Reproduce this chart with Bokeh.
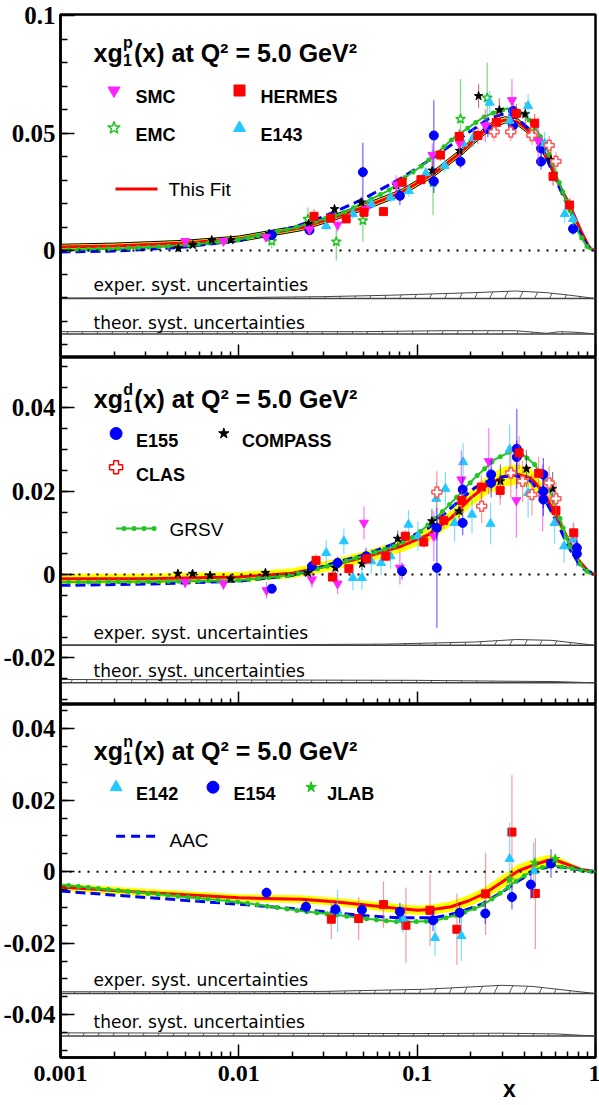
import numpy as np
from bokeh.plotting import figure
from bokeh.models import Range1d, FixedTicker, Label, Span, LogAxis
from bokeh.layouts import column
from bokeh.embed import file_html
from bokeh.resources import INLINE

# ---------------- DATA ----------------
x_major = [0.001, 0.01, 0.1, 1.0]
x_major_labels = ["0.001", "0.01", "0.1", "1"]

# ----- proton panel -----
p_fit_x = [0.001, 0.002, 0.005, 0.01, 0.0224, 0.0344, 0.053, 0.0815, 0.125, 0.177, 0.229, 0.272, 0.31, 0.368, 0.456, 0.542, 0.644, 0.733, 0.834, 0.928, 1.0]
p_fit_y = [0.0015, 0.0020, 0.0032, 0.0050, 0.0097, 0.0142, 0.0191, 0.0247, 0.0330, 0.0420, 0.0497, 0.0542, 0.0556, 0.0546, 0.0490, 0.0386, 0.0260, 0.0177, 0.0079, 0.0010, 0.0]
p_fit_err = [0.0012, 0.0012, 0.0012, 0.0012, 0.0012, 0.0012, 0.0013, 0.0013, 0.0013, 0.0014, 0.0014, 0.0014, 0.0014, 0.0014, 0.0013, 0.0012, 0.0011, 0.0009, 0.0006, 0.0003, 0.0]
p_aac_x = [0.001, 0.002, 0.005, 0.01, 0.02, 0.03, 0.05, 0.08, 0.12, 0.18, 0.25, 0.3, 0.35, 0.42, 0.5, 0.6, 0.7, 0.8, 0.9, 1.0]
p_aac_y = [-0.0006, -0.0002, 0.0015, 0.0043, 0.0098, 0.0145, 0.0220, 0.0305, 0.0390, 0.0485, 0.0560, 0.0580, 0.0575, 0.0520, 0.0440, 0.0300, 0.0190, 0.0090, 0.0020, 0.0]
p_grsv_x = [0.001, 0.002, 0.005, 0.01, 0.02, 0.030, 0.0375, 0.054, 0.0686, 0.085, 0.105, 0.131, 0.159, 0.201, 0.234, 0.284, 0.323, 0.368, 0.419, 0.477, 0.542, 0.617, 0.702, 0.798, 0.908, 1.0]
p_grsv_y = [0.0003, 0.0008, 0.0022, 0.0047, 0.0095, 0.0135, 0.0156, 0.0216, 0.0254, 0.0310, 0.0358, 0.0420, 0.0477, 0.0532, 0.0567, 0.0595, 0.0605, 0.0595, 0.0560, 0.0504, 0.0420, 0.0302, 0.0191, 0.0079, 0.0010, 0.0]

p_smc_x = [0.005, 0.0082, 0.0142, 0.0249, 0.0358, 0.0517, 0.0763, 0.1216, 0.173, 0.241, 0.34, 0.477]
p_smc_y = [0.0040, 0.0040, 0.0058, 0.0090, 0.0110, 0.0175, 0.0281, 0.0407, 0.0456, 0.0532, 0.0640, 0.0467]
p_smc_e = [0.0010, 0.0012, 0.0015, 0.0020, 0.0030, 0.0035, 0.0040, 0.0050, 0.0060, 0.0070, 0.0090, 0.0100]
p_hermes_x = [0.0264, 0.0327, 0.040, 0.0503, 0.0647, 0.0824, 0.105, 0.135, 0.172, 0.219, 0.278, 0.36, 0.456, 0.578, 0.716]
p_hermes_y = [0.0146, 0.0138, 0.0135, 0.0163, 0.0166, 0.0291, 0.0302, 0.0407, 0.0486, 0.0490, 0.0546, 0.0584, 0.0542, 0.0316, 0.0194]
p_hermes_e = [0.0030, 0.0020, 0.0015, 0.0015, 0.0015, 0.0020, 0.0020, 0.0025, 0.0030, 0.0035, 0.0040, 0.0040, 0.0040, 0.0040, 0.0030]
p_emc_x = [0.0153, 0.0244, 0.0352, 0.0496, 0.1227, 0.175, 0.247]
p_emc_y = [0.0040, 0.0134, 0.0038, 0.0128, 0.0290, 0.0560, 0.0650]
p_emc_e = [0.0030, 0.0050, 0.0080, 0.0090, 0.0140, 0.0170, 0.0150]
p_e143_x = [0.0309, 0.0436, 0.0553, 0.0709, 0.0899, 0.112, 0.1425, 0.181, 0.206, 0.255, 0.33, 0.419, 0.519, 0.672, 0.748]
p_e143_y = [0.0105, 0.0156, 0.0198, 0.0226, 0.0254, 0.0330, 0.0361, 0.0456, 0.0480, 0.0630, 0.0553, 0.0616, 0.0456, 0.0156, 0.0135]
p_e143_e = [0.0020, 0.0020, 0.0020, 0.0020, 0.0025, 0.0025, 0.0030, 0.0035, 0.0040, 0.0050, 0.0050, 0.0050, 0.0050, 0.0040, 0.0030]
p_e155_x = [0.0153, 0.0249, 0.0496, 0.080, 0.124, 0.124, 0.175, 0.249, 0.345, 0.345, 0.495, 0.495, 0.748]
p_e155_y = [0.0066, 0.0087, 0.0334, 0.0233, 0.0490, 0.0295, 0.0379, 0.0518, 0.0532, 0.0595, 0.0435, 0.0379, 0.0093]
p_e155_e = [0.0015, 0.0020, 0.0125, 0.0040, 0.0150, 0.0050, 0.0030, 0.0035, 0.0040, 0.0040, 0.0040, 0.0035, 0.0025]
p_star_x = [0.00458, 0.00552, 0.00705, 0.0090, 0.0148, 0.0246, 0.0344, 0.0486, 0.0763, 0.1216, 0.173, 0.221, 0.289, 0.404, 0.563]
p_star_y = [0.0010, 0.0024, 0.0045, 0.0045, 0.0072, 0.0114, 0.0177, 0.0205, 0.0277, 0.0341, 0.0425, 0.0658, 0.0598, 0.0581, 0.0386]
p_star_e = [0.0008, 0.0008, 0.0010, 0.0010, 0.0012, 0.0015, 0.0020, 0.0025, 0.0030, 0.0040, 0.0050, 0.0050, 0.0050, 0.0050, 0.0040]
p_clas_x = [0.27, 0.335, 0.44, 0.55, 0.6]
p_clas_y = [0.0505, 0.0505, 0.0490, 0.0448, 0.0380]
p_clas_e = [0.0040, 0.0040, 0.0040, 0.0040, 0.0040]

p_exp_x = [0.001, 0.003, 0.01, 0.03, 0.07, 0.139, 0.207, 0.357, 0.53, 0.72, 1.0]
p_exp_h = [0.0002, 0.0003, 0.0004, 0.0008, 0.0014, 0.0021, 0.0025, 0.0032, 0.0025, 0.0014, 0.0]
p_theo_x = [0.001, 0.01, 0.05, 0.139, 0.357, 0.53, 0.63, 0.8, 1.0]
p_theo_h = [0.0010, 0.0010, 0.0010, 0.0014, 0.0014, 0.0003, 0.0010, 0.0007, 0.0]
p_exp_base = -0.0204
p_theo_base = -0.0355

# ----- deuteron panel -----
d_fit_x = [0.001, 0.003, 0.01, 0.02, 0.0344, 0.053, 0.0815, 0.116, 0.155, 0.2, 0.25, 0.31, 0.368, 0.434, 0.515, 0.617, 0.702, 0.798, 0.928, 1.0]
d_fit_y = [-0.0010, -0.0010, -0.0006, 0.0003, 0.0024, 0.0044, 0.0068, 0.0096, 0.0136, 0.0184, 0.0216, 0.0236, 0.0240, 0.0232, 0.0196, 0.0132, 0.0084, 0.0036, 0.0004, 0.0]
d_fit_err = [0.0012, 0.0012, 0.0012, 0.0012, 0.0013, 0.0014, 0.0015, 0.0016, 0.0018, 0.0020, 0.0022, 0.0024, 0.0024, 0.0022, 0.0018, 0.0014, 0.0010, 0.0006, 0.0002, 0.0]
d_aac_x = [0.001, 0.003, 0.01, 0.02, 0.0344, 0.053, 0.0815, 0.116, 0.155, 0.21, 0.272, 0.355, 0.434, 0.515, 0.617, 0.702, 0.834, 1.0]
d_aac_y = [-0.0026, -0.0023, -0.0016, -0.0002, 0.0028, 0.0050, 0.0080, 0.0112, 0.0160, 0.0208, 0.0232, 0.0238, 0.0224, 0.0184, 0.0120, 0.0068, 0.0016, 0.0]
d_grsv_x = [0.001, 0.003, 0.01, 0.02, 0.0344, 0.053, 0.0748, 0.0967, 0.125, 0.162, 0.21, 0.272, 0.336, 0.381, 0.456, 0.542, 0.617, 0.702, 0.834, 0.928, 1.0]
d_grsv_y = [-0.0018, -0.0017, -0.0014, -0.0001, 0.0024, 0.0048, 0.0068, 0.0092, 0.0132, 0.0180, 0.0232, 0.0276, 0.0296, 0.0292, 0.0264, 0.0212, 0.0148, 0.0076, 0.0020, 0.0002, 0.0]

d_smc_x = [0.005, 0.0082, 0.0143, 0.0257, 0.0358, 0.0503, 0.080, 0.124, 0.177, 0.252, 0.36, 0.505]
d_smc_y = [-0.0018, -0.0022, -0.0038, -0.0012, -0.0022, 0.0124, 0.0016, 0.0092, 0.0228, 0.0272, 0.0178, 0.0184]
d_smc_e = [0.0015, 0.0015, 0.0020, 0.0020, 0.0025, 0.0040, 0.0040, 0.0060, 0.0070, 0.0080, 0.0090, 0.0080]
d_e143_x = [0.0309, 0.0388, 0.0436, 0.049, 0.0553, 0.0628, 0.0709, 0.0894, 0.101, 0.128, 0.144, 0.162, 0.181, 0.203, 0.258, 0.33, 0.419, 0.59, 0.667, 0.748]
d_e143_y = [0.0052, 0.0080, -0.0008, -0.0008, 0.0032, 0.0028, 0.0044, 0.0120, 0.0092, 0.0182, 0.0206, 0.0124, 0.0270, 0.0144, 0.0122, 0.0300, 0.0196, 0.0124, 0.0068, 0.0084]
d_e143_e = [0.0030, 0.0030, 0.0030, 0.0030, 0.0030, 0.0030, 0.0030, 0.0035, 0.0035, 0.0040, 0.0040, 0.0045, 0.0045, 0.0045, 0.0050, 0.0060, 0.0060, 0.0050, 0.0040, 0.0040]
d_e155_x = [0.0153, 0.0257, 0.0358, 0.0517, 0.0823, 0.129, 0.129, 0.18, 0.18, 0.26, 0.26, 0.362, 0.362, 0.51, 0.51, 0.51, 0.786, 0.786]
d_e155_y = [-0.0034, 0.0020, 0.0028, 0.0044, 0.0008, 0.0016, 0.0112, 0.0204, 0.0124, 0.0240, 0.0220, 0.0302, 0.0282, 0.0240, 0.0200, 0.0180, 0.0064, 0.0050]
d_e155_e = [0.0010, 0.0015, 0.0015, 0.0020, 0.0020, 0.0144, 0.0030, 0.0030, 0.0030, 0.0035, 0.0035, 0.0096, 0.0040, 0.0040, 0.0040, 0.0040, 0.0030, 0.0030]
d_compass_x = [0.00455, 0.0055, 0.0069, 0.0090, 0.0141, 0.0244, 0.0348, 0.0491, 0.0777, 0.121, 0.172, 0.293, 0.41, 0.575]
d_compass_y = [0.0002, 0.0002, -0.0002, -0.0010, 0.0004, 0.0004, 0.0016, 0.0026, 0.0086, 0.0128, 0.0152, 0.0224, 0.0254, 0.0206]
d_compass_e = [0.0008, 0.0008, 0.0008, 0.0008, 0.0010, 0.0010, 0.0012, 0.0015, 0.0020, 0.0030, 0.0035, 0.0040, 0.0045, 0.0040]
d_hermes_x = [0.0271, 0.0335, 0.0414, 0.0522, 0.0667, 0.0858, 0.109, 0.141, 0.178, 0.229, 0.292, 0.373, 0.48, 0.6, 0.755]
d_hermes_y = [0.0034, -0.0006, 0.0014, 0.0038, 0.0044, 0.0092, 0.0078, 0.0130, 0.0178, 0.0210, 0.0202, 0.0292, 0.0243, 0.0154, 0.0100]
d_hermes_e = [0.0015, 0.0012, 0.0012, 0.0012, 0.0012, 0.0015, 0.0015, 0.0020, 0.0025, 0.0030, 0.0035, 0.0040, 0.0040, 0.0035, 0.0025]
d_clas_x = [0.129, 0.23, 0.335, 0.39, 0.44, 0.55, 0.6]
d_clas_y = [0.0198, 0.0164, 0.0244, 0.0224, 0.0192, 0.0220, 0.0182]
d_clas_e = [0.0050, 0.0040, 0.0060, 0.0050, 0.0050, 0.0040, 0.0040]

d_exp_x = [0.001, 0.01, 0.067, 0.21, 0.36, 0.57, 1.0]
d_exp_h = [0.0001, 0.0001, 0.0003, 0.0008, 0.0014, 0.0012, 0.0]
d_theo_x = [0.001, 0.01, 0.1, 0.3, 0.6, 1.0]
d_theo_h = [0.0008, 0.0007, 0.0006, 0.0004, 0.0003, 0.0]
d_exp_base = -0.0170
d_theo_base = -0.0260

# ----- neutron panel -----
n_fit_x = [0.001, 0.003, 0.01, 0.0224, 0.0344, 0.053, 0.0815, 0.101, 0.125, 0.155, 0.193, 0.239, 0.295, 0.368, 0.456, 0.542, 0.617, 0.702, 0.834, 1.0]
n_fit_y = [-0.0043, -0.0058, -0.0073, -0.0077, -0.0084, -0.0094, -0.0104, -0.0108, -0.0105, -0.0098, -0.0082, -0.0061, -0.0031, 0.0002, 0.0020, 0.0032, 0.0030, 0.0020, 0.0006, 0.0]
n_fit_err = [0.0010, 0.0010, 0.0010, 0.0011, 0.0011, 0.0012, 0.0013, 0.0013, 0.0014, 0.0015, 0.0016, 0.0017, 0.0018, 0.0018, 0.0017, 0.0015, 0.0012, 0.0008, 0.0004, 0.0]
n_aac_x = [0.001, 0.003, 0.01, 0.0224, 0.0344, 0.053, 0.0815, 0.125, 0.169, 0.229, 0.295, 0.368, 0.456, 0.562, 0.702, 0.88, 1.0]
n_aac_y = [-0.0054, -0.0072, -0.0091, -0.0105, -0.0115, -0.0124, -0.0129, -0.0129, -0.0115, -0.0091, -0.0059, -0.0026, 0.0002, 0.0016, 0.0011, 0.0002, 0.0]
n_grsv_x = [0.001, 0.003, 0.01, 0.0224, 0.0344, 0.053, 0.0815, 0.125, 0.169, 0.229, 0.295, 0.368, 0.456, 0.562, 0.702, 0.88, 1.0]
n_grsv_y = [-0.0036, -0.0060, -0.0085, -0.0110, -0.0120, -0.0132, -0.0141, -0.0138, -0.0120, -0.0096, -0.0059, -0.0022, 0.0006, 0.0018, 0.0011, 0.0002, 0.0]

n_e154_x = [0.0143, 0.0238, 0.0348, 0.049, 0.080, 0.1227, 0.173, 0.241, 0.34, 0.434, 0.563]
n_e154_y = [-0.0059, -0.0098, -0.0105, -0.0107, -0.0112, -0.0136, -0.0115, -0.0117, -0.0071, -0.0036, 0.0023]
n_e154_e = [0.0015, 0.0020, 0.0020, 0.0020, 0.0025, 0.0030, 0.0030, 0.0030, 0.0035, 0.0040, 0.0040]
n_e142_x = [0.0358, 0.083, 0.126, 0.177, 0.33, 0.45]
n_e142_y = [-0.0110, -0.0131, -0.0185, -0.0180, 0.0036, 0.0002]
n_e142_e = [0.0060, 0.0040, 0.0050, 0.0070, 0.0100, 0.0080]
n_hermes_x = [0.033, 0.047, 0.0647, 0.0865, 0.118, 0.167, 0.242, 0.34, 0.46]
n_hermes_y = [-0.0133, -0.0131, -0.0092, -0.0150, -0.0108, -0.0161, -0.0062, 0.0111, -0.0061]
n_hermes_e = [0.0055, 0.0060, 0.0065, 0.0105, 0.0100, 0.0100, 0.0115, 0.0160, 0.0155]
n_jlab_x = [0.33, 0.456, 0.595]
n_jlab_y = [-0.0022, 0.0025, 0.0036]
n_jlab_e = [0.0015, 0.0015, 0.0015]

n_exp_x = [0.001, 0.01, 0.03, 0.11, 0.3, 0.44, 1.0]
n_exp_h = [0.0005, 0.0005, 0.0006, 0.0012, 0.0023, 0.0020, 0.0]
n_theo_x = [0.001, 0.01, 0.1, 0.3, 0.6, 1.0]
n_theo_h = [0.0009, 0.0008, 0.0007, 0.0008, 0.0006, 0.0]
n_exp_base = -0.0341
n_theo_base = -0.0460

x_axis_title = "x"

# ---------------- STYLE ----------------
RED = "#ff0000"
BLUE = "#0000ff"
GREEN = "#22c422"
CYAN = "#22c8ff"
MAGENTA = "#ff22ff"
YELLOW = "#ffff00"

ORIGIN = 1           # observed page offset of the canvas
BORDER_L = 58
FRAME_LEFT = ORIGIN + BORDER_L
FRAME_W = 535
SANS = "Liberation Sans"
SERIF = "Liberation Serif"

panels = {}


def make_panel(key, lo, hi, top_px, frame_h, y_major, y_labels, y_minor, bottom=False, mb_top=0):
    p = figure(x_axis_type="log", x_range=Range1d(0.001, 1.0), y_range=Range1d(lo, hi),
               frame_width=FRAME_W, frame_height=frame_h,
               min_border_left=BORDER_L, min_border_right=5, min_border_top=mb_top,
               min_border_bottom=0,
               output_backend="svg", toolbar_location=None)
    p.xgrid.visible = False
    p.ygrid.visible = False
    p.outline_line_color = "black"
    p.outline_line_width = 2.5
    p.background_fill_color = "white"
    p.border_fill_color = "white"

    minors_x = [m * 10.0 ** e for e in (-3, -2, -1) for m in range(2, 10)]
    p.xaxis.ticker = FixedTicker(ticks=x_major, minor_ticks=minors_x)
    p.xaxis.major_label_overrides = {v: s for v, s in zip(x_major, x_major_labels)}
    p.yaxis.ticker = FixedTicker(ticks=y_major, minor_ticks=y_minor)
    p.yaxis.major_label_overrides = {v: s for v, s in zip(y_major, y_labels)}

    for ax in (p.xaxis, p.yaxis):
        ax.axis_line_width = 2.5
        ax.major_tick_out = 0
        ax.minor_tick_out = 0
        ax.major_tick_line_width = 1.5
        ax.minor_tick_line_width = 1.5
        ax.major_label_text_font = SERIF
        ax.major_label_text_font_style = "bold"
        ax.major_label_text_color = "black"
    p.yaxis.major_label_text_font_size = "25px"
    p.xaxis.major_label_text_font_size = "24px"
    p.xaxis.major_tick_in = 13
    p.xaxis.minor_tick_in = 6
    p.yaxis.major_tick_in = 14
    p.yaxis.minor_tick_in = 7
    p.yaxis.major_label_standoff = 5
    if bottom:
        p.xaxis.major_label_standoff = 8
    else:
        p.xaxis.major_label_text_color = None
        p.xaxis.major_label_standoff = 0
    panels[key] = (p, lo, hi, top_px, frame_h)
    return p


def X(key, px):
    return 10 ** (-3 + 3.0 * (px - FRAME_LEFT) / FRAME_W)


def Y(key, py):
    p, lo, hi, top, h = panels[key]
    return hi - (py - top) / h * (hi - lo)


def text(key, px, py, s, size, style="normal", font=SANS, baseline="alphabetic", align="left"):
    p = panels[key][0]
    p.add_layout(Label(x=X(key, px), y=Y(key, py), text=s, text_font=font,
                       text_font_size=size, text_font_style=style, text_color="black",
                       text_baseline=baseline, text_align=align))


def title(key, px, py):
    sup_char = {"P": "p", "D": "d", "N": "n"}[key]
    text(key, px, py, "xg", "25px", "bold")
    cx = px + 29.5
    text(key, cx, py + 7, "1", "16px", "bold")
    text(key, cx, py - 10, sup_char, "16px", "bold")
    cx += 11
    text(key, cx, py, "(x) at Q\u00b2 = 5.0 GeV\u00b2", "25px", "bold")


def legend_marker(key, px, py, marker, fill, line, size):
    p = panels[key][0]
    p.scatter(x=[X(key, px)], y=[Y(key, py)], marker=marker, size=size,
              fill_color=fill, line_color=line, line_width=1.5 if fill == "white" else 1)


def legend_line(key, px0, px1, py, color, width, dash="solid", grsv=False):
    p = panels[key][0]
    xs = [X(key, px0), X(key, px1)]
    ys = [Y(key, py), Y(key, py)]
    if grsv:
        p.line(xs, ys, line_color=color, line_width=2, line_dash="6 4")
        p.line(xs, ys, line_color=color, line_width=5, line_dash="0 10",
               line_cap="round", line_dash_offset=-8)
    else:
        p.line(xs, ys, line_color=color, line_width=width, line_dash=dash)


def draw_curves(p, fx, fy, fe, ax, ay, gx, gy, outline=False):
    fx = np.array(fx); fy = np.array(fy); fe = np.array(fe)
    p.varea(x=fx, y1=fy - fe, y2=fy + fe, fill_color=YELLOW, fill_alpha=1.0)
    if outline:
        p.line(fx, fy - fe, line_color="black", line_width=1)
        p.line(fx, fy + fe, line_color="black", line_width=1)
    p.line(fx, fy, line_color=RED, line_width=3)
    p.line(ax, ay, line_color=BLUE, line_width=3, line_dash="10 5")
    p.line(gx, gy, line_color=GREEN, line_width=2, line_dash="6 4")
    p.line(gx, gy, line_color=GREEN, line_width=5, line_dash="0 10",
           line_cap="round", line_dash_offset=-8)


def draw_points(p, xs, ys, es, marker, fill, line, ecolor, size=9):
    xs = np.array(xs); ys = np.array(ys); es = np.array(es)
    p.segment(x0=xs, y0=ys - es, x1=xs, y1=ys + es, line_color=ecolor, line_width=1.2, line_alpha=0.6)
    p.scatter(x=xs, y=ys, marker=marker, size=size, fill_color=fill, line_color=line,
              line_width=1.5 if fill == "white" else 1)


def draw_syst(p, x, h, base):
    x = np.array(x); h = np.array(h)
    b = np.full(len(x), base)
    p.varea(x=x, y1=b, y2=b + h, fill_alpha=0.0, hatch_pattern="/", hatch_color="#333333",
            hatch_scale=30, hatch_weight=0.8, hatch_alpha=1.0)
    p.line(x, b + h, line_color="#444444", line_width=1)
    p.line(x, b, line_color="#444444", line_width=1.5)


# ---------------- PANEL 1 : proton ----------------
p1 = make_panel("P", -0.0455, 0.1005, ORIGIN + 14, 343, [0.0, 0.05, 0.1], ["0", "0.05", "0.1"],
                [round(-0.04 + 0.01 * i, 3) for i in range(14)], mb_top=14)
p1.add_layout(Span(location=0, dimension="width", line_color="black", line_width=2, line_dash="2 7"))
draw_syst(p1, p_exp_x, p_exp_h, p_exp_base)
draw_syst(p1, p_theo_x, p_theo_h, p_theo_base)
draw_curves(p1, p_fit_x, p_fit_y, p_fit_err, p_aac_x, p_aac_y, p_grsv_x, p_grsv_y, outline=True)
draw_points(p1, p_emc_x, p_emc_y, p_emc_e, "star", "white", GREEN, GREEN, 10)
draw_points(p1, p_star_x, p_star_y, p_star_e, "star", "black", "black", "#aa2222", 9)
draw_points(p1, p_e155_x, p_e155_y, p_e155_e, "circle", BLUE, BLUE, BLUE, 9)
draw_points(p1, p_e143_x, p_e143_y, p_e143_e, "triangle", CYAN, CYAN, CYAN, 9)
draw_points(p1, p_smc_x, p_smc_y, p_smc_e, "inverted_triangle", MAGENTA, MAGENTA, MAGENTA, 9)
draw_points(p1, p_hermes_x, p_hermes_y, p_hermes_e, "square", RED, RED, RED, 8)
draw_points(p1, p_clas_x, p_clas_y, p_clas_e, "plus", "white", "#ff5555", "#ff5555", 10)

title("P", 92, 53)
legend_marker("P", 112.5, 91, "inverted_triangle", MAGENTA, MAGENTA, 12)
text("P", 134, 97.5, "SMC", "18px", "bold")
legend_marker("P", 238, 91, "square", RED, RED, 11)
text("P", 259, 97.5, "HERMES", "18px", "bold")
legend_marker("P", 112.5, 128.5, "star", "white", GREEN, 13)
text("P", 134, 135, "EMC", "18px", "bold")
legend_marker("P", 238, 128.5, "triangle", CYAN, CYAN, 12)
text("P", 259, 135, "E143", "18px", "bold")
legend_line("P", 114, 156, 189.5, RED, 3)
text("P", 167, 190, "This Fit", "19px")
text("P", 92, 285, "exper. syst. uncertainties", "17px", font="DejaVu Sans")
text("P", 92, 323.5, "theor. syst. uncertainties", "17px", font="DejaVu Sans")

# ---------------- PANEL 2 : deuteron ----------------
p2 = make_panel("D", -0.0312, 0.0521, 358, 347, [-0.02, 0.0, 0.02, 0.04], ["-0.02", "0", "0.02", "0.04"],
                [round(-0.03 + 0.005 * i, 3) for i in range(17)])
p2.add_layout(Span(location=0, dimension="width", line_color="black", line_width=2, line_dash="2 7"))
draw_syst(p2, d_exp_x, d_exp_h, d_exp_base)
draw_syst(p2, d_theo_x, d_theo_h, d_theo_base)
draw_curves(p2, d_fit_x, d_fit_y, d_fit_err, d_aac_x, d_aac_y, d_grsv_x, d_grsv_y)
draw_points(p2, d_e143_x, d_e143_y, d_e143_e, "triangle", CYAN, CYAN, CYAN, 9)
draw_points(p2, d_smc_x, d_smc_y, d_smc_e, "inverted_triangle", MAGENTA, MAGENTA, MAGENTA, 9)
draw_points(p2, d_compass_x, d_compass_y, d_compass_e, "star", "black", "black", "#333333", 9)
draw_points(p2, d_e155_x, d_e155_y, d_e155_e, "circle", BLUE, BLUE, BLUE, 9)
draw_points(p2, d_hermes_x, d_hermes_y, d_hermes_e, "square", RED, RED, "#ff5555", 8)
draw_points(p2, d_clas_x, d_clas_y, d_clas_e, "plus", "white", "#ff5555", "#ff5555", 10)

title("D", 92.3, 399.5)
legend_marker("D", 114.6, 434, "circle", BLUE, BLUE, 12)
text("D", 134.6, 441.5, "E155", "18px", "bold")
legend_marker("D", 222.3, 434, "star", "black", "black", 11)
text("D", 240.4, 441.5, "COMPASS", "18px", "bold")
legend_marker("D", 114.6, 467.7, "plus", "white", RED, 13)
text("D", 134.6, 475, "CLAS", "18px", "bold")
legend_line("D", 114.6, 153.8, 529, GREEN, 2, grsv=True)
text("D", 168, 530, "GRSV", "19px")
text("D", 92, 633.3, "exper. syst. uncertainties", "17px", font="DejaVu Sans")
text("D", 92, 671, "theor. syst. uncertainties", "17px", font="DejaVu Sans")

# ---------------- PANEL 3 : neutron ----------------
p3 = make_panel("N", -0.052, 0.0468, 705, 353, [-0.04, -0.02, 0.0, 0.02, 0.04],
                ["-0.04", "-0.02", "0", "0.02", "0.04"],
                [round(-0.05 + 0.005 * i, 3) for i in range(20)], bottom=True)
p3.add_layout(Span(location=0, dimension="width", line_color="black", line_width=2, line_dash="2 7"))
draw_syst(p3, n_exp_x, n_exp_h, n_exp_base)
draw_syst(p3, n_theo_x, n_theo_h, n_theo_base)
draw_curves(p3, n_fit_x, n_fit_y, n_fit_err, n_aac_x, n_aac_y, n_grsv_x, n_grsv_y)
draw_points(p3, n_hermes_x, n_hermes_y, n_hermes_e, "square", RED, RED, "#ff5555", 8)
draw_points(p3, n_e142_x, n_e142_y, n_e142_e, "triangle", CYAN, CYAN, CYAN, 9)
draw_points(p3, n_e154_x, n_e154_y, n_e154_e, "circle", BLUE, BLUE, BLUE, 9)
draw_points(p3, n_jlab_x, n_jlab_y, n_jlab_e, "star", GREEN, GREEN, GREEN, 9)

title("N", 92.3, 751.7)
legend_marker("N", 114.6, 787.7, "triangle", CYAN, CYAN, 12)
text("N", 134.6, 794.3, "E142", "18px", "bold")
legend_marker("N", 211.5, 787.7, "circle", BLUE, BLUE, 12)
text("N", 232, 794.3, "E154", "18px", "bold")
legend_marker("N", 309.6, 787.7, "star", GREEN, GREEN, 11)
text("N", 325.8, 794.3, "JLAB", "18px", "bold")
legend_line("N", 114.6, 153.8, 836.7, BLUE, 3, dash="9 6")
text("N", 168, 840.7, "AAC", "19px")
text("N", 92, 980, "exper. syst. uncertainties", "17px", font="DejaVu Sans")
text("N", 92, 1022.7, "theor. syst. uncertainties", "17px", font="DejaVu Sans")

# axis title "x" placed near the right end, as a second (tick-less) axis below
x_title_at = X("N", 508)
ax_title = LogAxis(ticker=FixedTicker(ticks=[x_title_at], minor_ticks=[]),
                   major_label_overrides={x_title_at: x_axis_title},
                   axis_line_color=None, major_tick_line_color=None, minor_tick_line_color=None,
                   major_tick_in=0, major_tick_out=0, minor_tick_in=0, minor_tick_out=0,
                   major_label_text_font=SANS, major_label_text_font_style="bold",
                   major_label_text_font_size="23px", major_label_text_color="black",
                   major_label_standoff=-8)
p3.add_layout(ax_title, "below")

layout = column(p1, p2, p3, spacing=0)
open("out.html", "w").write(file_html(layout, INLINE))
